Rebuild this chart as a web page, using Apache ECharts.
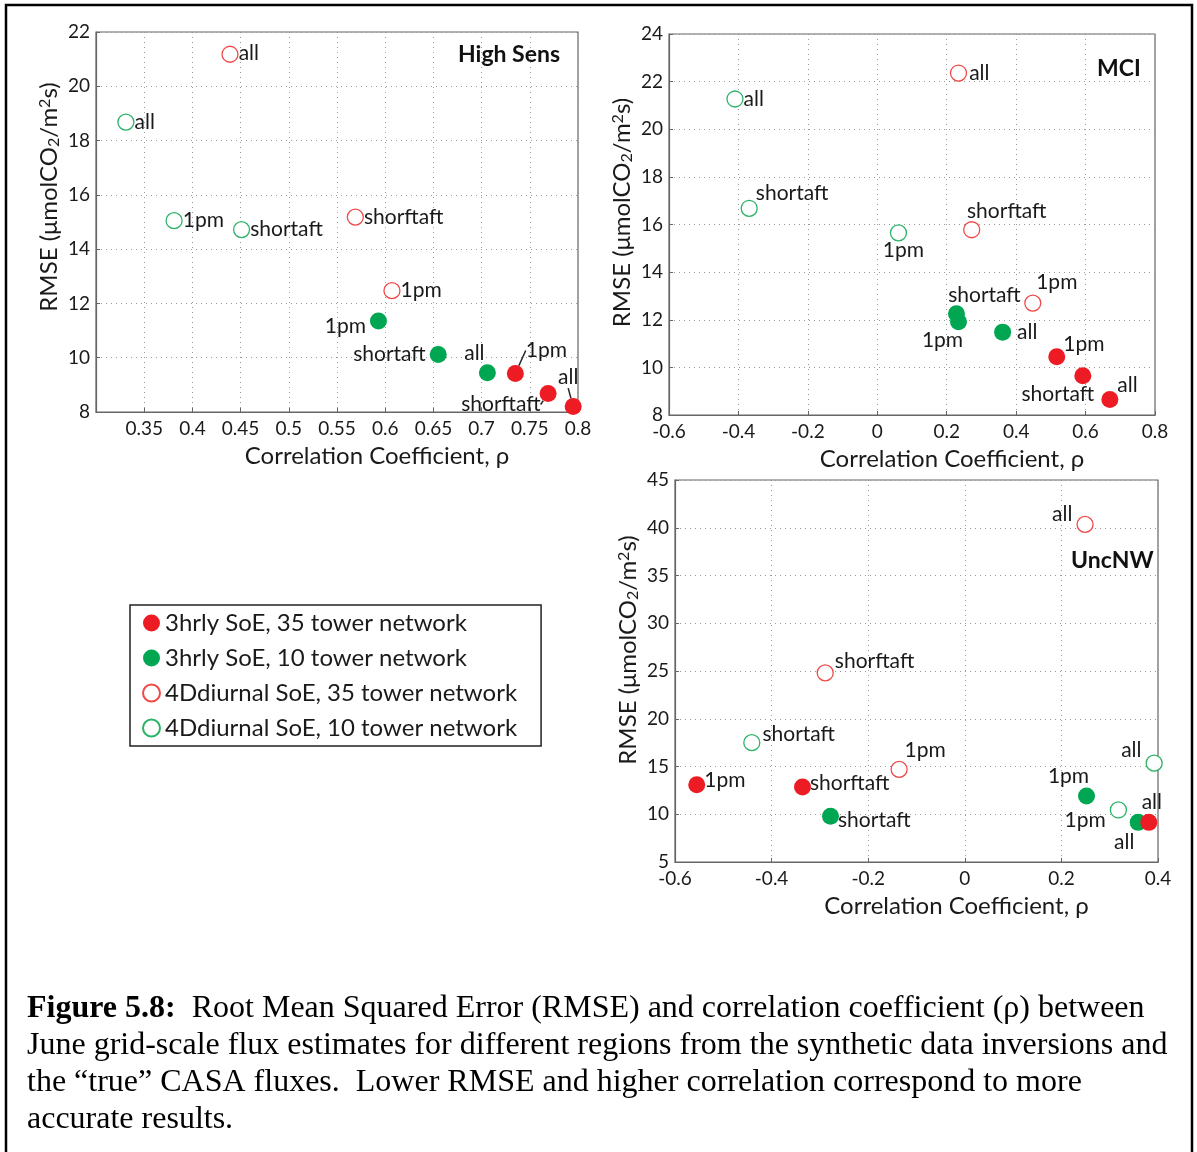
<!DOCTYPE html>
<html>
<head>
<meta charset="utf-8">
<script src="https://cdn.jsdelivr.net/npm/echarts@6/dist/echarts.min.js"></script>
<style>
  html, body { margin: 0; padding: 0; background: #fff; }
  #chart { width: 1197px; height: 1152px; }
</style>
</head>
<body>
<div id="chart"></div>
<script>
// legend / series names
const seriesNames = [
  '3hrly SoE, 35 tower network',
  '3hrly SoE, 10 tower network',
  '4Ddiurnal SoE, 35 tower network',
  '4Ddiurnal SoE, 10 tower network'
];

// [rho, rmse, run]  -- High Sens
const hsFilled35 = [[0.735, 9.42, '1pm'], [0.769, 8.68, 'shorftaft'], [0.795, 8.2, 'all']];
const hsFilled10 = [[0.593, 11.35, '1pm'], [0.655, 10.12, 'shortaft'], [0.706, 9.45, 'all']];
const hsOpen35 = [[0.607, 12.47, '1pm'], [0.569, 15.18, 'shorftaft'], [0.439, 21.18, 'all']];
const hsOpen10 = [[0.381, 15.05, '1pm'], [0.451, 14.72, 'shortaft'], [0.331, 18.68, 'all']];

// MCI
const mciFilled35 = [[0.517, 10.45, '1pm'], [0.592, 9.65, 'shortaft'], [0.67, 8.65, 'all']];
const mciFilled10 = [[0.234, 11.92, '1pm'], [0.228, 12.25, 'shortaft'], [0.361, 11.48, 'all']];
const mciOpen35 = [[0.448, 12.7, '1pm'], [0.272, 15.78, 'shorftaft'], [0.234, 22.36, 'all']];
const mciOpen10 = [[0.061, 15.65, '1pm'], [-0.369, 16.68, 'shortaft'], [-0.41, 21.27, 'all']];

// UncNW
const uncFilled35 = [[-0.555, 13.1, '1pm'], [-0.336, 12.85, 'shorftaft'], [0.381, 9.15, 'all']];
const uncFilled10 = [[0.252, 11.9, '1pm'], [-0.278, 9.8, 'shortaft'], [0.359, 9.15, 'all']];
const uncOpen35 = [[-0.136, 14.7, '1pm'], [-0.289, 24.8, 'shorftaft'], [0.249, 40.35, 'all']];
const uncOpen10 = [[0.318, 10.45, '1pm'], [-0.441, 17.5, 'shortaft'], [0.392, 15.35, 'all']];

// label placement (style only): [position, dx, dy]
const hsFilled35Pos = [['top', 0, 0], ['left', 0, 0], ['top', 0, 0]];
const hsFilled35Move = [[31, 0], [5, 11], [-5, -6]]; // moved labels with leader line
const hsFilled10Pos = [['left', 0, 5], ['left', 0, 0], ['top', -13, 4]];
const hsOpen35Pos = [['right', -4, 0], ['right', -4, 0], ['right', -4, -1]];
const hsOpen10Pos = [['right', -4, 0], ['right', -4, 0], ['right', -4, 0]];

const mciFilled35Pos = [['right', -6, -12], ['bottom', -25, -4], ['right', -5, -14]];
const mciFilled10Pos = [['bottom', -16, -4], ['top', 28, 4], ['right', 2, 0]];
const mciOpen35Pos = [['top', 24, 2], ['top', 35, 5], ['right', -2, 0]];
const mciOpen10Pos = [['bottom', 5, -6], ['right', -6, -15], ['right', -4, 0]];

const uncFilled35Pos = [['right', -5, -4], ['right', -5, -4], ['top', 3, 3]];
const uncFilled10Pos = [['top', -18, 3], ['right', -5, 4], ['bottom', -14, -3]];
const uncOpen35Pos = [['top', 26, 4], ['right', -3, -12], ['left', 0, -10]];
const uncOpen10Pos = [['left', 0, 10], ['right', -2, -8], ['left', 0, -13]];

const RED = '#ED1C24';
const GREEN = '#00A651';
const RED_O = '#EF4A4A';
const GREEN_O = '#2DB368';

const FONT = 'Lato';
const TXT = '#1a1a1a';

const grids = [
  { left: 96, top: 32, width: 482, height: 380 },
  { left: 669, top: 34, width: 486, height: 381 },
  { left: 675, top: 480, width: 483, height: 382 }
];
const xRanges = [[0.3, 0.8, 0.05], [-0.6, 0.8, 0.2], [-0.6, 0.4, 0.2]];
const yRanges = [[8, 22, 2], [8, 24, 2], [5, 45, 5]];
const yNameShift = [50, 24, 42];

function makeItems(rows, pos) {
  return rows.map((r, i) => ({
    value: [r[0], r[1]],
    label: {
      formatter: r[2],
      position: pos[i][0],
      offset: [pos[i][1], pos[i][2]]
    }
  }));
}

function scatter(nameIdx, gi, rows, pos, extra) {
  const filled = nameIdx < 2;
  const col = [RED, GREEN, RED_O, GREEN_O][nameIdx];
  const s = {
    name: seriesNames[nameIdx],
    type: 'scatter',
    xAxisIndex: gi,
    yAxisIndex: gi,
    symbol: 'circle',
    symbolSize: filled ? 17 : 16,
    itemStyle: filled
      ? { color: col, borderWidth: 0, opacity: 1 }
      : { color: '#fff', borderColor: col, borderWidth: 1.3, opacity: 1 },
    label: {
      show: true,
      distance: 4,
      fontFamily: FONT,
      fontSize: 21,
      color: TXT
    },
    emphasis: { disabled: true },
    data: makeItems(rows, pos)
  };
  return Object.assign(s, extra || {});
}

const ySubName = 'RMSE (μmolCO{sub|2}/m{sup|2}s)';

const xAxes = grids.map((g, i) => ({
  type: 'value',
  gridIndex: i,
  min: xRanges[i][0],
  max: xRanges[i][1],
  interval: xRanges[i][2],
  name: 'Correlation Coefficient, ρ',
  nameLocation: 'middle',
  nameGap: 32,
  nameTextStyle: { fontFamily: FONT, fontSize: 24, color: TXT, padding: [0, 0, 0, 80] },
  axisLine: { onZero: false, lineStyle: { color: '#666', width: 1.2 } },
  axisTick: { inside: true, length: 4, lineStyle: { color: '#666' } },
  axisLabel: {
    fontFamily: FONT, fontSize: 19, color: TXT, margin: 7,
    showMinLabel: i !== 0,
    formatter: v => String(+v.toFixed(2))
  },
  splitLine: { show: true, lineStyle: { color: '#9a9a9a', type: [1, 4], width: 1 } }
}));

const yAxes = grids.map((g, i) => ({
  type: 'value',
  gridIndex: i,
  min: yRanges[i][0],
  max: yRanges[i][1],
  interval: yRanges[i][2],
  name: ySubName,
  nameLocation: 'middle',
  nameRotate: 90,
  nameGap: 34,
  nameTextStyle: {
    fontFamily: FONT, fontSize: 24, color: TXT,
    padding: [0, 0, 0, yNameShift[i]],
    rich: {
      sub: { fontFamily: FONT, fontSize: 16, color: TXT, verticalAlign: 'bottom', padding: [9, 0, 0, 0] },
      sup: { fontFamily: FONT, fontSize: 16, color: TXT, verticalAlign: 'top', padding: [0, 0, 9, 0] }
    }
  },
  axisLine: { onZero: false, lineStyle: { color: '#666', width: 1.2 } },
  axisTick: { inside: true, length: 4, lineStyle: { color: '#666' } },
  axisLabel: { fontFamily: FONT, fontSize: 19, color: TXT, margin: 6 },
  splitLine: { show: true, lineStyle: { color: '#9a9a9a', type: [1, 4], width: 1 } }
}));

const series = [
  scatter(2, 0, hsOpen35, hsOpen35Pos),
  scatter(3, 0, hsOpen10, hsOpen10Pos),
  scatter(1, 0, hsFilled10, hsFilled10Pos),
  scatter(0, 0, hsFilled35, hsFilled35Pos, {
    labelLayout: p => ({ dx: hsFilled35Move[p.dataIndex][0], dy: hsFilled35Move[p.dataIndex][1] }),
    labelLine: { show: true, length2: 0, lineStyle: { color: '#222', width: 1.5 } }
  }),

  scatter(2, 1, mciOpen35, mciOpen35Pos),
  scatter(3, 1, mciOpen10, mciOpen10Pos),
  scatter(1, 1, mciFilled10, mciFilled10Pos),
  scatter(0, 1, mciFilled35, mciFilled35Pos),

  scatter(2, 2, uncOpen35, uncOpen35Pos),
  scatter(3, 2, uncOpen10, uncOpen10Pos),
  scatter(1, 2, uncFilled10, uncFilled10Pos),
  scatter(0, 2, uncFilled35, uncFilled35Pos)
];

const titleStyle = { fontFamily: FONT, fontSize: 23, fontWeight: 'bold', color: '#111' };

const caption =
  '{b|Figure 5.8:}  Root Mean Squared Error (RMSE) and correlation coefficient (ρ) between\n' +
  'June grid-scale flux estimates for different regions from the synthetic data inversions and\n' +
  'the \u201ctrue\u201d CASA fluxes.  Lower RMSE and higher correlation correspond to more\n' +
  'accurate results.';

const option = {
  animation: false,
  backgroundColor: '#fff',
  title: [
    { text: 'High Sens', left: 458, top: 43, padding: 0, textStyle: titleStyle },
    { text: 'MCI', left: 1097, top: 57, padding: 0, textStyle: titleStyle },
    { text: 'UncNW', left: 1071, top: 549, padding: 0, textStyle: titleStyle }
  ],
  legend: {
    data: seriesNames,
    orient: 'vertical',
    left: 130,
    top: 605,
    padding: [5, 24, 5, 12],
    itemGap: 9,
    itemWidth: 17,
    itemHeight: 17,
    icon: 'circle',
    borderColor: '#222',
    borderWidth: 1.5,
    selectedMode: false,
    textStyle: { fontFamily: FONT, fontSize: 24, color: TXT, lineHeight: 26 }
  },
  grid: grids.map(g => Object.assign({ show: true, borderColor: '#666', borderWidth: 1.2, backgroundColor: 'transparent' }, g)),
  xAxis: xAxes,
  yAxis: yAxes,
  series: series,
  graphic: [
    {
      type: 'rect',
      shape: { x: 6, y: 5, width: 1186, height: 1170 },
      style: { fill: 'none', stroke: '#000', lineWidth: 2.5 },
      silent: true
    },
    {
      type: 'text',
      left: 27,
      top: 990,
      silent: true,
      style: {
        text: caption,
        fontFamily: 'Liberation Serif',
        fontSize: 32,
        lineHeight: 37,
        fill: '#000',
        rich: {
          b: { fontFamily: 'Liberation Serif', fontSize: 32, fontWeight: 'bold', fill: '#000', lineHeight: 37 }
        }
      }
    }
  ]
};

const chart = echarts.init(document.getElementById('chart'));
chart.setOption(option);
</script>
</body>
</html>
